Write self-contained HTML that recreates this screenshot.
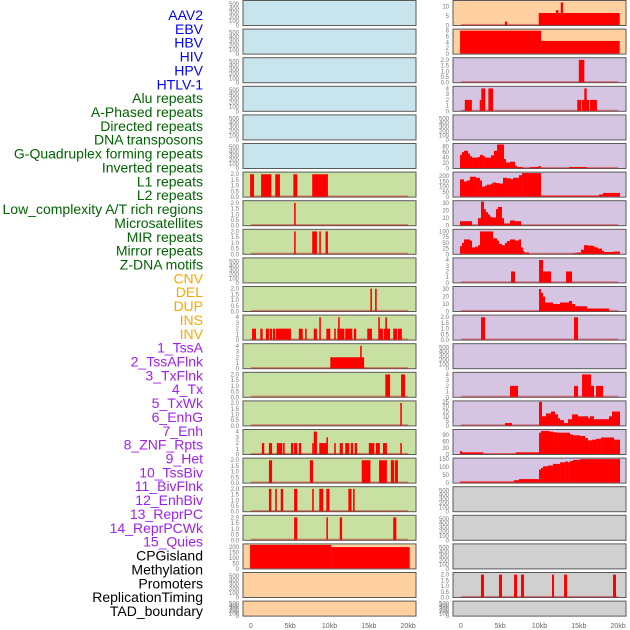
<!DOCTYPE html>
<html><head><meta charset="utf-8">
<style>
html,body{margin:0;padding:0;background:#fff;}
svg{display:block;font-family:"Liberation Sans",sans-serif;}
</style></head>
<body>
<svg id="chart" width="630" height="630" viewBox="0 0 630 630"></svg>
<script>
// ---- track labels ----
const trackLabels = ["AAV2","EBV","HBV","HIV","HPV","HTLV-1","Alu repeats","A-Phased repeats","Directed repeats","DNA transposons","G-Quadruplex forming repeats","Inverted repeats","L1 repeats","L2 repeats","Low_complexity A/T rich regions","Microsatellites","MIR repeats","Mirror repeats","Z-DNA motifs","CNV","DEL","DUP","INS","INV","1_TssA","2_TssAFlnk","3_TxFlnk","4_Tx","5_TxWk","6_EnhG","7_Enh","8_ZNF_Rpts","9_Het","10_TssBiv","11_BivFlnk","12_EnhBiv","13_ReprPC","14_ReprPCWk","15_Quies","CPGisland","Methylation","Promoters","ReplicationTiming","TAD_boundary"];
const labelColors = ["#0000ff","#0000ff","#0000ff","#0000ff","#0000ff","#0000ff","#006400","#006400","#006400","#006400","#006400","#006400","#006400","#006400","#006400","#006400","#006400","#006400","#006400","#ffa500","#ffa500","#ffa500","#ffa500","#ffa500","#a020f0","#a020f0","#a020f0","#a020f0","#a020f0","#a020f0","#a020f0","#a020f0","#a020f0","#a020f0","#a020f0","#a020f0","#a020f0","#a020f0","#a020f0","#000","#000","#000","#000","#000"];
const xTicks = [0,5,10,15,20];
const xTickLabels = ["0","5kb","10kb","15kb","20kb"];

// ---- tick arrays ----
const t500 = [0,100,200,300,400,500];
const t2 = [0,0.5,1.0,1.5,2.0];
const t4 = [0,1,2,3,4];

// ---- left column bars [startKb, endKb, value] ----
const L6 = [[-0.1,0.4,2],[1.3,2.6,2],[3.1,3.7,2],[5.4,5.9,2],[7.8,9.8,2]];
const L7 = [[5.5,5.7,2]];
const L8 = [[5.5,5.7,2],[7.8,8.4,2],[8.7,8.9,2],[9.5,9.8,2]];
const L10 = [[15.2,15.4,2],[15.8,16.0,2]];
const L11 = [[0.15,0.65,2],[1.2,1.5,2],[1.9,2.3,2],[2.4,2.7,2],[2.8,3.1,2],[3.2,5.1,2],[6.1,6.6,2],[6.9,7.1,2],[8.0,8.4,2],[8.7,8.9,4],[9.6,10.1,2],[10.6,10.8,2],[11.0,11.9,2],[11.1,11.3,4],[12.0,12.9,2],[13.1,13.4,2],[14.8,15.4,2],[16.2,16.4,4],[16.3,16.8,2],[16.9,17.7,2],[17.1,17.3,4],[18.1,18.6,2],[18.7,19.2,2]];
const L12 = [[10.1,14.4,2],[13.9,14.1,4]];
const L13 = [[17.1,17.7,2],[19.1,19.6,2]];
const L14 = [[19.0,19.2,2]];
const L15 = [[1.4,1.7,2],[2.3,2.7,2],[3.3,4.0,2],[4.1,4.3,2],[5.1,5.4,2],[5.5,5.9,2],[6.1,6.4,2],[7.8,8.0,2],[8.0,8.4,4],[8.7,9.7,2],[9.6,9.8,3],[10.6,10.8,2],[11.3,11.7,2],[12.0,12.5,2],[12.7,13.0,2],[13.2,13.5,2],[15.0,15.7,2],[15.9,16.4,2],[16.8,17.3,2],[19.0,19.2,2]];
const L16 = [[2.3,2.7,2],[7.5,7.9,2],[14.1,15.2,2],[16.3,17.3,2],[17.8,18.2,2],[18.3,18.7,2]];
const L17 = [[2.3,2.6,2],[3.1,3.3,2],[3.8,4.1,2],[5.5,5.9,2],[7.8,8.0,2],[8.7,9.2,2],[9.6,10.0,2],[12.4,12.8,2],[13.0,13.2,2]];
const L18 = [[5.5,5.9,2],[9.6,9.8,2],[11.3,11.6,2],[18.1,18.5,2]];
const L19 = [[-0.1,10.2,220],[10.2,20.2,200]];

// ---- right column bars ----
const R0 = [[5.6,5.9,2],[9.9,20.2,6.5],[12.1,12.4,8],[12.7,13.0,12]];
const R1 = [[-0.1,10.2,8],[10.2,20.2,4.5]];
const R2 = [[15.0,15.7,2]];
const R3 = [[0.5,1.4,2],[2.4,2.6,2],[2.6,3.1,4],[3.5,4.1,4],[14.8,15.3,2],[15.4,16.3,2],[15.7,16.0,4],[16.4,17.3,2]];
const R5 = [[-0.11,0.14,50],[0.14,0.4,60],[0.4,0.91,65],[0.91,1.16,55],[1.16,1.42,45],[1.42,2.18,40],[2.18,2.43,42],[2.43,2.82,50],[2.82,3.07,45],[3.07,3.83,40],[3.83,4.21,48],[4.21,4.6,65],[4.6,5.49,88],[5.49,5.74,35],[5.74,6.25,22],[6.25,6.89,25],[6.89,7.14,10],[7.14,7.9,5],[8.79,9.81,5],[9.81,10.19,8],[13.75,16.05,5]];
const R6 = [[-0.11,0.4,170],[0.4,0.78,150],[0.78,1.16,160],[1.16,1.93,195],[1.93,2.43,185],[2.43,2.69,160],[2.69,3.07,100],[3.07,3.32,110],[3.32,3.83,120],[3.83,4.09,130],[4.09,4.47,140],[4.47,4.85,135],[4.85,5.36,130],[5.36,5.87,185],[5.87,6.38,180],[6.38,6.63,170],[6.63,7.39,185],[7.39,7.78,210],[7.78,10.19,230],[10.19,17.57,15],[17.57,18.08,25],[18.08,20.24,40]];
const R7 = [[-0.11,1.42,6],[2.18,2.56,10],[2.56,2.94,32],[2.94,3.2,22],[3.2,3.45,18],[3.45,3.71,15],[3.71,3.96,12],[3.96,4.47,11],[4.47,4.72,22],[4.72,5.23,25],[5.23,5.49,10],[5.49,6.25,3],[6.25,6.89,7],[6.89,7.65,6]];
const R8 = [[-0.11,0.14,35],[0.14,0.4,50],[0.4,1.16,65],[1.16,1.42,60],[1.42,1.8,30],[1.8,2.18,33],[2.18,2.43,40],[2.43,4.09,100],[4.09,4.6,70],[4.6,4.85,60],[4.85,5.23,45],[5.23,5.61,40],[5.61,5.87,50],[5.87,6.25,58],[6.25,6.89,65],[6.89,7.39,60],[7.39,7.65,65],[7.65,7.9,30],[7.9,8.03,15],[8.03,8.67,8],[14.26,14.77,5],[14.77,15.28,8],[15.28,15.66,20],[15.66,16.17,40],[16.17,16.81,38],[16.81,17.06,35],[17.06,17.44,30],[17.44,17.95,25],[17.95,18.21,15],[18.21,19.48,10],[19.48,20.24,12]];
const R9 = [[6.38,6.89,2],[9.94,10.45,4],[10.45,11.46,2],[13.37,14.14,2]];
const R10 = [[9.94,10.19,30],[10.19,10.45,25],[10.45,10.7,20],[10.7,11.72,12],[11.72,12.61,10],[12.61,13.75,12],[13.75,14.14,14],[14.14,14.52,10],[14.52,16.05,7],[16.05,18.84,4]];
const R11 = [[2.56,3.07,2],[14.39,14.9,2]];
const R13 = [[6.25,7.27,2],[14.39,14.9,2],[15.41,16.05,4],[16.05,16.55,4],[16.55,16.93,2],[17.19,18.08,2]];
const R14 = [[5.61,6.5,3],[9.94,10.32,25],[10.32,10.83,10],[10.83,11.46,13],[11.46,11.97,15],[11.97,12.36,12],[12.36,12.61,8],[12.61,13.12,6],[13.12,13.63,3],[13.63,14.14,7],[14.14,14.9,12],[14.9,15.66,10],[15.66,16.17,10],[16.17,16.42,8],[16.42,16.93,10],[16.93,18.84,7],[18.84,19.22,10],[19.22,20.24,15]];
const R15 = [[-0.11,0.14,15],[0.14,2.82,10],[2.82,7.01,5],[7.01,9.94,10],[9.94,10.19,100],[10.19,11.21,108],[11.21,11.72,105],[11.72,12.23,102],[12.23,13.88,100],[13.88,14.26,92],[14.26,15.15,88],[15.15,15.79,85],[15.79,16.17,75],[16.17,16.68,65],[16.68,17.19,68],[17.19,17.83,72],[17.83,19.48,78],[19.48,20.24,68]];
const R16 = [[-0.11,6.76,10],[6.76,7.39,18],[7.39,9.94,25],[9.94,10.19,85],[10.19,10.45,95],[10.45,11.08,105],[11.08,11.72,110],[11.72,12.61,120],[12.61,13.25,130],[13.25,13.63,135],[13.63,13.88,130],[13.88,14.26,138],[14.26,15.15,145],[15.15,20.24,150]];
const R20 = [[2.56,2.94,2],[4.85,5.23,2],[6.76,7.14,2],[7.65,8.03,2],[11.59,11.85,2],[13.12,13.5,2],[19.35,19.73,2]];

const C_BLUE="#c8e4ec", C_GREEN="#c8e0a2", C_ORANGE="#ffd0a0", C_PURPLE="#d5c5e2", C_GRAY="#d0d0d0";
// [bars, ymax, ticks, bg, baseline]
const leftPanels = [
 [[],560,t500,C_BLUE,false],[[],560,t500,C_BLUE,false],[[],560,t500,C_BLUE,false],[[],560,t500,C_BLUE,false],[[],560,t500,C_BLUE,false],[[],560,t500,C_BLUE,false],
 [L6,2.1,t2,C_GREEN,true],[L7,2.1,t2,C_GREEN,true],[L8,2.1,t2,C_GREEN,true],[[],560,t500,C_GREEN,false],[L10,2.1,t2,C_GREEN,true],
 [L11,4.2,t4,C_GREEN,true],[L12,4.2,t4,C_GREEN,true],[L13,2.1,t2,C_GREEN,true],[L14,2.1,t2,C_GREEN,true],[L15,4.2,t4,C_GREEN,true],
 [L16,2.1,t2,C_GREEN,true],[L17,2.1,t2,C_GREEN,true],[L18,2.1,t2,C_GREEN,true],
 [L19,220,[0,50,100,150,200],C_ORANGE,false],[[],560,t500,C_ORANGE,false],[[],560,t500,C_ORANGE,false]
];
const rightPanels = [
 [R0,12.5,[0,5,10],C_ORANGE,true],[R1,8.2,[0,2,4,6,8],C_ORANGE,false],[R2,2.1,t2,C_PURPLE,true],[R3,4.2,t4,C_PURPLE,true],[[],560,t500,C_PURPLE,false],
 [R5,88,[0,20,40,60,80],C_PURPLE,true],[R6,230,[0,50,100,150,200],C_PURPLE,false],[R7,32,[0,10,20,30],C_PURPLE,true],[R8,105,[0,25,50,75,100],C_PURPLE,true],
 [R9,4.2,t4,C_PURPLE,true],[R10,32,[0,10,20,30],C_PURPLE,true],[R11,2.1,t2,C_PURPLE,true],[[],560,t500,C_PURPLE,false],[R13,4.2,t4,C_PURPLE,true],
 [R14,25,[0,5,10,15,20,25],C_PURPLE,true],[R15,110,[0,30,60,90],C_PURPLE,false],[R16,150,[0,50,100,150],C_PURPLE,false],
 [[],560,t500,C_GRAY,false],[[],560,t500,C_GRAY,false],[[],560,t500,C_GRAY,false],[R20,2.1,t2,C_GRAY,true],[[],560,t500,C_GRAY,false]
];

const NS="http://www.w3.org/2000/svg";
const svg=document.getElementById('chart');
function mk(tag,attrs,parent){const e=document.createElementNS(NS,tag);for(const k in attrs)e.setAttribute(k,attrs[k]);(parent||svg).appendChild(e);return e;}

// labels
trackLabels.forEach((t,k)=>{
  const e=mk('text',{x:203,y:20+k*13.86,'text-anchor':'end','font-size':14,fill:labelColors[k]});
  
  
  e.textContent=t;
});

function drawColumn(panels,x0,side){
  const W=173;
  const xs=kb=>x0+(kb+1)/22*W;
  panels.forEach((p,i)=>{
    const [bars,ymax,ticks,bg,base]=p;
    const top=i*28.6+0.5, h=(i===21)?15:25, bottom=top+h;
    const ys=v=>bottom-v/ymax*(h-1);
    const g=mk('g',{});
    
    
    mk('rect',{x:x0,y:top,width:W,height:h,fill:bg,stroke:'#5a5a5a','stroke-width':1},g);
    ticks.forEach(tv=>{
      const ty=ys(tv);
      if(ty<top-4)return;
      const t=mk('text',{x:x0-4,y:ty+2,'text-anchor':'end','font-size':6,fill:'#777'},g);
      
      
      t.textContent=(ticks===t2)?tv.toFixed(1):tv;
    });
    if(base){
      const b=mk('rect',{x:xs(0),y:bottom-1.6,width:xs(20)-xs(0),height:1.6,fill:'rgba(190,20,20,0.45)'},g);
      
      
    }
    bars.forEach(b=>{
      const y=ys(Math.min(b[2],ymax));
      const r=mk('rect',{x:xs(b[0]),y:y,width:Math.max(xs(b[1])-xs(b[0]),1.2),height:bottom-y-0.5,fill:'#ff0000'},g);
      
      
    });
  });
  xTicks.forEach((v,j)=>{
    const t=mk('text',{x:xs(v),y:628,'text-anchor':'middle','font-size':7,fill:'#666'});
    
    
    t.textContent=xTickLabels[j];
  });
}
drawColumn(leftPanels,243,'left');
drawColumn(rightPanels,453,'right');
</script>
</body></html>
